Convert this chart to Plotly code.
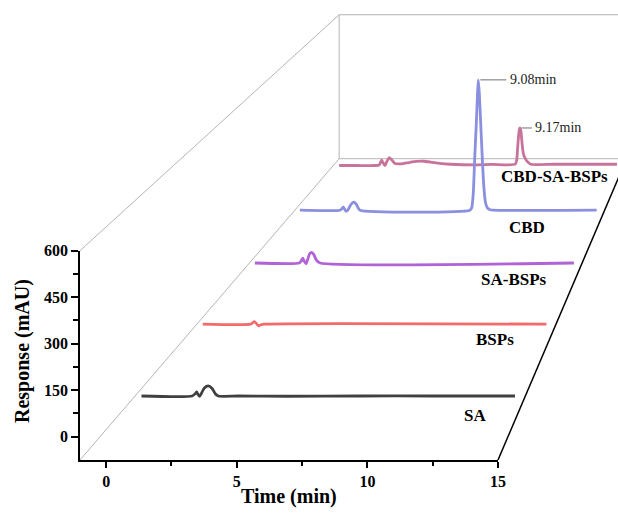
import plotly.graph_objects as go

# ---------------- data (front-axis units: time in min, response in mAU above baseline) -------------
SERIES_NAMES = ["SA", "BSPs", "SA-BSPs", "CBD", "CBD-SA-BSPs"]

SA_T = [-1.0, 1.10, 1.22, 1.28, 1.33, 1.40, 1.47, 1.60, 1.76, 1.92, 2.05, 2.18, 3.0, 5.0, 8.0, 11.0, 14.44]
SA_R = [0, 0, 8, 14, 6, -1, 8, 28, 35, 26, 8, 0, 0, -1, 0, 0, 0]

BSPS_T = [-1.0, 1.15, 1.25, 1.32, 1.40, 1.50, 1.60, 1.75, 14.44]
BSPS_R = [0, 0, 6, 10, 4, -6, -3, 0, 0]

SABSPS_T = [-1.0, 1.15, 1.24, 1.32, 1.40, 1.48, 1.56, 1.66, 1.75, 1.86, 1.98, 2.16, 14.47]
SABSPS_R = [0, 0, 8, 20, 6, -3, 15, 38, 43, 34, 12, 0, 0]

CBD_T = [-1.0, 1.08, 1.18, 1.26, 1.33, 1.40, 1.50, 1.62, 1.75, 1.82, 1.92, 2.02, 2.13,
         7.85, 7.95, 8.03, 8.10, 8.18, 8.25, 8.29, 8.34, 8.42, 8.50, 8.58, 8.66, 8.76, 8.90, 9.05, 14.45]
CBD_R = [0, 0, 6, 13, 4, -5, 2, 20, 33, 35, 28, 12, 0,
         0, 12, 79, 224, 370, 516, 572, 516, 370, 224, 100, 35, 10, 2, 0, 0]

MIX_T = [-1.0, 0.0, 1.0, 1.22, 1.30, 1.37, 1.45, 1.55, 1.65, 1.79, 1.95, 2.11, 2.5, 2.9, 3.3, 3.7,
         4.1, 4.6, 5.2, 6.5, 7.5, 8.80, 8.88, 8.95, 9.02, 9.06, 9.11, 9.18, 9.25, 9.37, 9.50, 9.66, 11.0, 14.46]
MIX_R = [-6, -6, -6, -4, 8, 19, 6, -7, 12, 31, 18, 3, 2, 8, 13, 14,
         10, 4, 0, -3, -1, 0, 19, 97, 159, 170, 159, 97, 50, 25, 10, 0, 0, 0]

SERIES_T = [SA_T, BSPS_T, SABSPS_T, CBD_T, MIX_T]
SERIES_R = [SA_R, BSPS_R, SABSPS_R, CBD_R, MIX_R]

PEAK_LABELS = {3: "9.08min", 4: "9.17min"}

X_TICKS = [0, 5, 10, 15]
X_MINOR = [2.5, 7.5, 12.5]
Y_TICKS = [0, 150, 300, 450, 600]
Y_MINOR = [75, 225, 375, 525]
X_RANGE = [-1, 15]
Y_RANGE = [-75, 600]

# ---------------- styling / geometry -------------
COLORS = ["#404040", "#f46a6a", "#b062d6", "#8a8fe0", "#c8739c"]
W, H = 618, 513
ML, MB = 80, 53
PW, PH = W - ML, H - MB
FRONT_W, FRONT_H = 418.0, 209.3
KX = FRONT_W / (X_RANGE[1] - X_RANGE[0])
KY = FRONT_H / (Y_RANGE[1] - Y_RANGE[0])
XMAIN = [X_RANGE[0], X_RANGE[0] + PW / KX]
YMAIN = [Y_RANGE[0], Y_RANGE[0] + PH / KY]


def px_to_data(px, py):
    return X_RANGE[0] + (px - ML) / KX, Y_RANGE[0] + (H - MB - py) / KY


def px_to_paper(px, py):
    return (px - ML) / PW, (H - MB - py) / PH


VX, VY = px_to_data(910, -505)   # vanishing point
Q0, DQ = 1.08, 0.0935            # perspective depth of first series, step per series
QB = Q0 + 4 * DQ                 # back wall
BASE = -101                      # baseline offset of series on the floor


def proj(ts, rs, q, base=0.0):
    return ([VX + (t - VX) / q for t in ts], [VY + (r + base - VY) / q for r in rs])


fig = go.Figure()

GRAY = "#b4b4b4"


def seg(p0, p1, color, width):
    fig.add_trace(go.Scatter(x=[p0[0], p1[0]], y=[p0[1], p1[1]], mode="lines",
                             line=dict(color=color, width=width), showlegend=False, hoverinfo="skip"))


def P(t, r, q):
    xs, ys = proj([t], [r], q)
    return xs[0], ys[0]


x0, x1 = X_RANGE
y0, y1 = Y_RANGE
seg(P(x0, y1, 1), P(x0, y1, QB), GRAY, 1)
seg(P(x0, y0, 1), P(x0, y0, QB), GRAY, 1)
seg(P(x0, y0, QB), P(x0, y1, QB), GRAY, 1)
seg(P(x0, y1, QB), P(x1, y1, QB), GRAY, 1)
seg(P(x0, y0, QB), P(x1, y0, QB), GRAY, 1)
seg(P(x1, y0, QB), P(x1, y1, QB), GRAY, 1)
seg(P(x1, y0, 1), P(x1, y0, QB), "black", 1.5)

# series, back to front
for i in reversed(range(len(SERIES_NAMES))):
    q = Q0 + DQ * i
    xs, ys = proj(SERIES_T[i], SERIES_R[i], q, BASE)
    fig.add_trace(go.Scatter(x=xs, y=ys, mode="lines", name=SERIES_NAMES[i],
                             line=dict(color=COLORS[i], width=2.8, shape="spline", smoothing=0.6),
                             showlegend=False, hoverinfo="skip"))

LEADER_PX = {3: (2, 28), 4: (2, 12)}
annotations = []
for i, txt in PEAK_LABELS.items():
    q = Q0 + DQ * i
    k = max(range(len(SERIES_R[i])), key=lambda j: SERIES_R[i][j])
    ax, ay = P(SERIES_T[i][k], SERIES_R[i][k] + BASE, q)
    a, b = LEADER_PX[i]
    seg((ax + a / KX, ay), (ax + b / KX, ay), "#707070", 1)
    annotations.append(dict(x=ax + (b + 1.5) / KX, y=ay, xref="x", yref="y", text=txt, showarrow=False,
                            xanchor="left", yanchor="middle",
                            font=dict(family="Liberation Serif", size=14, color="#222")))

LABEL_PX = [(475, 415.7), (495, 339), (514, 279), (526.7, 227.5), (554.5, 176)]
for name, (px, py) in zip(SERIES_NAMES, LABEL_PX):
    xp, yp = px_to_paper(px, py)
    annotations.append(dict(x=xp, y=yp, xref="paper", yref="paper", text=name, showarrow=False,
                            xanchor="center", yanchor="middle",
                            font=dict(family="Liberation Serif", size=17, color="black", weight="bold")))

xp, yp = px_to_paper(289, 496)
annotations.append(dict(x=xp, y=yp, xref="paper", yref="paper", text="Time (min)", showarrow=False,
                        xanchor="center", yanchor="middle",
                        font=dict(family="Liberation Serif", size=20, color="black", weight="bold")))
xp, yp = px_to_paper(22, 351)
annotations.append(dict(x=xp, y=yp, xref="paper", yref="paper", text="Response (mAU)", showarrow=False,
                        textangle=-90, xanchor="center", yanchor="middle",
                        font=dict(family="Liberation Serif", size=20, color="black", weight="bold")))

# invisible trace on front-axis subplot
fig.add_trace(go.Scatter(x=[X_RANGE[0]], y=[Y_RANGE[0]], xaxis="x2", yaxis="y2", mode="markers",
                         marker=dict(opacity=0), showlegend=False, hoverinfo="skip"))

tickfont = dict(family="Liberation Serif", size=16, color="black", weight="bold")
fig.update_layout(
    width=W, height=H, autosize=False,
    margin=dict(l=ML, r=0, t=0, b=MB, pad=0, autoexpand=False),
    paper_bgcolor="white", plot_bgcolor="rgba(0,0,0,0)",
    showlegend=False,
    xaxis=dict(domain=[0, 1], range=XMAIN, visible=False, fixedrange=True, automargin=False),
    yaxis=dict(domain=[0, 1], range=YMAIN, visible=False, fixedrange=True, automargin=False),
    xaxis2=dict(domain=[0, FRONT_W / PW], range=X_RANGE, anchor="y2", showline=True, linecolor="black",
                linewidth=1.5, ticks="outside", ticklen=6, tickwidth=1.5, tickcolor="black",
                tickmode="array", tickvals=X_TICKS, tickfont=tickfont, showgrid=False, zeroline=False,
                minor=dict(tickmode="array", tickvals=X_MINOR, ticks="outside", ticklen=4, tickwidth=1.5,
                           tickcolor="black", showgrid=False),
                fixedrange=True, automargin=False),
    yaxis2=dict(domain=[0, FRONT_H / PH], range=Y_RANGE, anchor="x2", showline=True, linecolor="black",
                linewidth=1.5, ticks="outside", ticklen=7, tickwidth=1.5, tickcolor="black",
                tickmode="array", tickvals=Y_TICKS, tickfont=tickfont, showgrid=False, zeroline=False,
                minor=dict(tickmode="array", tickvals=Y_MINOR, ticks="outside", ticklen=5, tickwidth=1.5,
                           tickcolor="black", showgrid=False),
                fixedrange=True, automargin=False),
    annotations=annotations,
)

fig.write_html("out.html", config={"displayModeBar": False, "responsive": False},
               post_script="document.body.style.margin='0';document.body.style.overflow='hidden';")
